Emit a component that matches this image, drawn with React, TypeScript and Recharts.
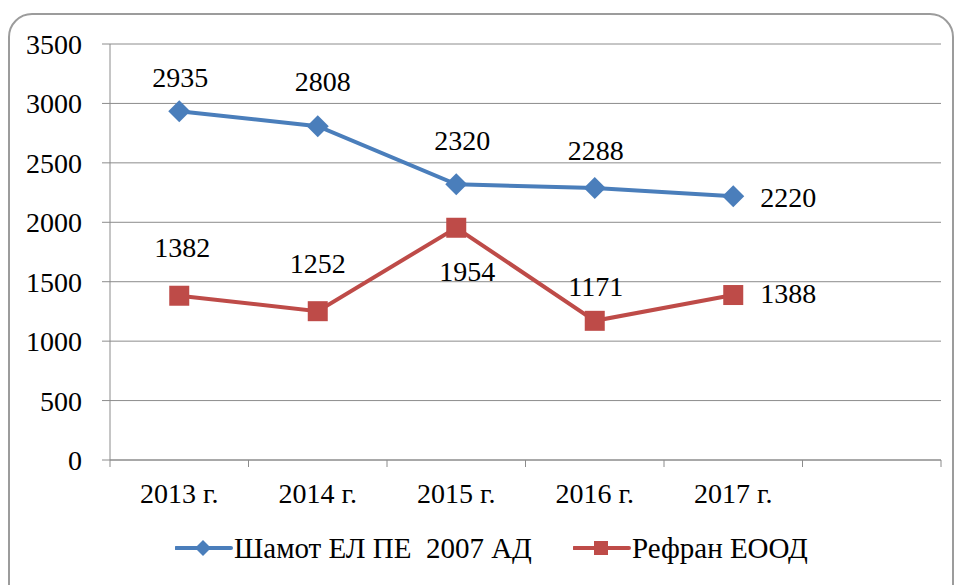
import React from "react"
import { CartesianGrid, LabelList, Legend, Line, LineChart, XAxis, YAxis } from "recharts"

// categories (the last slot is empty, like the source chart)
const years = ["2013 г.", "2014 г.", "2015 г.", "2016 г.", "2017 г.", ""]
const shamot = [2935, 2808, 2320, 2288, 2220]
const refran = [1382, 1252, 1954, 1171, 1388]
const yTicks = [0, 500, 1000, 1500, 2000, 2500, 3000, 3500]

const seriesNames = ["Шамот ЕЛ ПЕ  2007 АД", "Рефран ЕООД"]

const data = years.map((year, i) => ({
  year,
  shamot: shamot[i],
  refran: refran[i],
}))

const BLUE = "#4a7ebb"
const RED = "#be4b48"
const GRID = "#8c8c8c"
const FONT = "'Liberation Serif', 'Times New Roman', serif"
const FS = 28

const W = 956
const H = 585
const MARGIN = { top: 44, right: 15, bottom: 16, left: 0 }
const BAND = (W - 110 - MARGIN.right) / years.length

// label placement relative to the point: [dx, dy, anchor]
const blueLabelPos: [number, number, string][] = [
  [1, -34, "middle"],
  [5, -45, "middle"],
  [6, -44, "middle"],
  [1, -38, "middle"],
  [27, 1, "start"],
]
const redLabelPos: [number, number, string][] = [
  [3, -48, "middle"],
  [0, -48, "middle"],
  [11, 44, "middle"],
  [1, -34, "middle"],
  [27, -2, "start"],
]

function Diamond({ cx, cy }: any) {
  if (cx == null || cy == null) return null
  const r = 11
  return <path d={`M${cx},${cy - r}L${cx + r},${cy}L${cx},${cy + r}L${cx - r},${cy}Z`} fill={BLUE} />
}

function Square({ cx, cy }: any) {
  if (cx == null || cy == null) return null
  const r = 10
  return <rect x={cx - r} y={cy - r} width={r * 2} height={r * 2} fill={RED} />
}

function makeLabel(pos: [number, number, string][]) {
  return (props: any) => {
    const { value, index } = props
    if (value == null) return null
    const x = props.x ?? props.viewBox?.x
    const y = props.y ?? props.viewBox?.y
    const [dx, dy, anchor] = pos[index] || [0, -40, "middle"]
    return (
      <text
        key={index}
        x={x + dx}
        y={y + dy}
        textAnchor={anchor as any}
        dominantBaseline="central"
        fontFamily={FONT}
        fontSize={FS}
        fill="#000"
      >
        {value}
      </text>
    )
  }
}

function YearTick(props: any) {
  const { x, y, payload, index } = props
  return (
    <g>
      <line x1={x - BAND / 2} x2={x - BAND / 2} y1={y} y2={y + 7} stroke={GRID} />
      {index === years.length - 1 && (
        <line x1={x + BAND / 2} x2={x + BAND / 2} y1={y} y2={y + 7} stroke={GRID} />
      )}
      <text x={x} y={y + 33} textAnchor="middle" dominantBaseline="central" fontFamily={FONT} fontSize={FS} fill="#000">
        {payload.value}
      </text>
    </g>
  )
}

function LegendBox() {
  const items = [
    { name: seriesNames[0], color: BLUE, left: 175, marker: "diamond" },
    { name: seriesNames[1], color: RED, left: 573, marker: "square" },
  ]
  return (
    <div style={{ position: "relative", width: W, height: 42 }}>
      {items.map((it) => (
        <div
          key={it.name}
          style={{ position: "absolute", left: it.left, top: 0, height: 42, display: "flex", alignItems: "center" }}
        >
          <svg width={58} height={24}>
            <line x1={1} x2={56} y1={12} y2={12} stroke={it.color} strokeWidth={4} strokeLinecap="round" />
            {it.marker === "diamond" ? (
              <path d="M28,4L36,12L28,20L20,12Z" fill={it.color} />
            ) : (
              <rect x={21} y={5} width={14} height={14} fill={it.color} />
            )}
          </svg>
          <span style={{ fontFamily: FONT, fontSize: 29, color: "#000", whiteSpace: "pre", marginLeft: 1 }}>
            {it.name}
          </span>
        </div>
      ))}
    </div>
  )
}

export default function App() {
  return (
    <div style={{ position: "fixed", left: 0, top: 0, width: W, height: H, overflow: "hidden", background: "#fff" }}>
      <div
        style={{
          position: "absolute",
          left: 8,
          top: 13,
          width: 946,
          height: 640,
          border: "2.5px solid #9c9c9c",
          borderRadius: 24,
          boxSizing: "border-box",
        }}
      />
      <div style={{ position: "absolute", left: 0, top: 0 }}>
        <LineChart width={W} height={H} data={data} margin={MARGIN}>
          <CartesianGrid horizontal vertical={false} stroke={GRID} />
          <XAxis
            dataKey="year"
            interval={0}
            height={67}
            padding={{ left: BAND / 2, right: BAND / 2 }}
            tickLine={false}
            tickSize={0}
            tickMargin={0}
            axisLine={{ stroke: GRID }}
            tick={<YearTick />}
          />
          <YAxis
            width={110}
            domain={[0, 3500]}
            ticks={yTicks}
            interval={0}
            tickSize={8}
            tickMargin={20}
            tickLine={{ stroke: GRID }}
            axisLine={{ stroke: GRID }}
            tick={{ fill: "#000", fontSize: FS, fontFamily: FONT }}
          />
          <Legend verticalAlign="bottom" content={() => <LegendBox />} wrapperStyle={{ left: 0, width: W }} />
          <Line
            type="linear"
            dataKey="shamot"
            name={seriesNames[0]}
            stroke={BLUE}
            strokeWidth={4}
            dot={<Diamond />}
            activeDot={false}
            isAnimationActive={false}
          >
            <LabelList dataKey="shamot" content={makeLabel(blueLabelPos)} />
          </Line>
          <Line
            type="linear"
            dataKey="refran"
            name={seriesNames[1]}
            stroke={RED}
            strokeWidth={4}
            dot={<Square />}
            activeDot={false}
            isAnimationActive={false}
          >
            <LabelList dataKey="refran" content={makeLabel(redLabelPos)} />
          </Line>
        </LineChart>
      </div>
    </div>
  )
}
